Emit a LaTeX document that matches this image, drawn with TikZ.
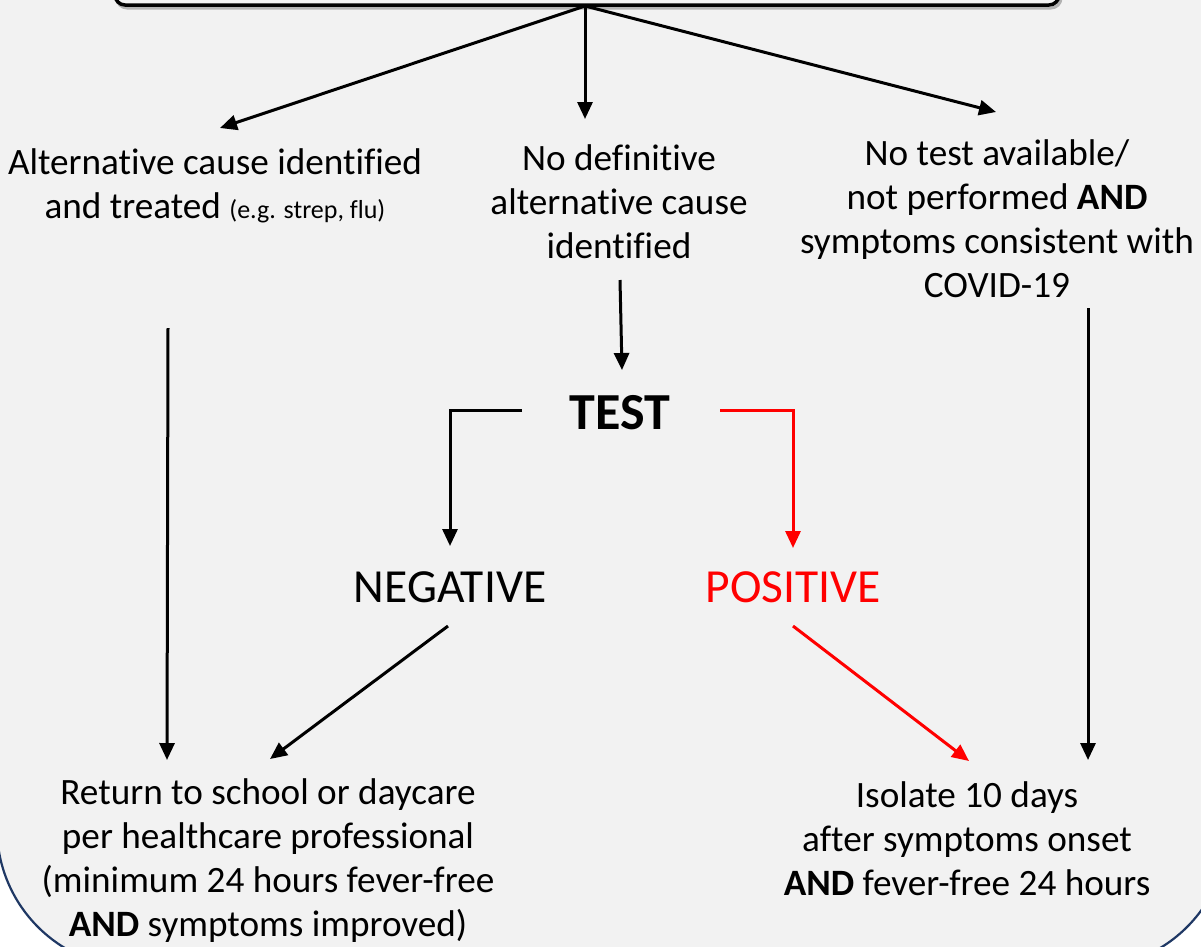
\documentclass[tikz,border=0pt]{standalone}
\usepackage{fontspec}
\setmainfont{Carlito}[Ligatures=NoCommon]
\usetikzlibrary{arrows.meta}
\definecolor{bggray}{HTML}{F2F2F2}
\definecolor{navy}{HTML}{1F3864}
\definecolor{redline}{HTML}{FF0000}
\tikzset{
  body/.style={inner sep=0pt, align=center, font=\fontsize{37.2}{44}\selectfont},
  big/.style={inner sep=0pt, font=\fontsize{47.5}{54}\selectfont},
  arr/.style={line width=3pt, -{Triangle[length=17pt,width=15pt]}},
  redarr/.style={arr, draw=redline, color=redline},
}
\begin{document}
\begin{tikzpicture}[x=1pt,y=-1pt]
\useasboundingbox (0,0) rectangle (1201,946);
\fill[white] (0,0) rectangle (1201,946);
\filldraw[fill=bggray, draw=navy, line width=2.2pt, rounded corners=140pt] (-3,-300) rectangle (1228,968);
% top box
\draw[gray!60, line width=3pt, rounded corners=10pt] (117,-40) -- (117,8) -- (1061,8) -- (1061,-40);
\draw[black, line width=3.5pt, rounded corners=10pt] (115,-40) -- (115,5) -- (1059,5) -- (1059,-40);
\coordinate (topmid) at (585,6);

% texts
\node[body] (alt) at (215,186) {Alternative cause identified\\and treated {\fontsize{26}{44}\selectfont (e.g. strep, flu)}};
\node[body] (nodef) at (619,202) {No definitive\\alternative cause\\identified};
\node[body] (notest) at (997,219) {No test available/\\not performed \textbf{AND}\\symptoms consistent with\\COVID-19};
\node[inner sep=0pt, font=\fontsize{52}{60}\selectfont\bfseries] (test) at (620,413) {TEST};
\node[big] (neg) at (450,587) {NEGATIVE};
\node[big, text=redline] (pos) at (793,587) {POSITIVE};
\node[body] (ret) at (268,861) {Return to school or daycare\\per healthcare professional\\(minimum 24 hours fever-free\\\textbf{AND} symptoms improved)};
\node[body] (iso) at (967,839) {Isolate 10 days\\after symptoms onset\\\textbf{AND} fever-free 24 hours};

% connector endpoints
\coordinate (altin) at (220,128);
\coordinate (nodefin) at (585,119);
\coordinate (notestin) at (996,112);
\coordinate (altout) at (168,328);
\coordinate (retinA) at (167,760);
\coordinate (nodefout) at (620,280);
\coordinate (testin) at (622,370);
\coordinate (notestout) at (1088,308);
\coordinate (isoinA) at (1088,760);
\coordinate (testL) at (522,410);
\coordinate (testR) at (720,410);
\coordinate (negin) at (450,546);
\coordinate (posin) at (793,548);
\coordinate (negout) at (448,626);
\coordinate (retinB) at (270,759);
\coordinate (posout) at (793,626);
\coordinate (isoinB) at (969,761);

\draw[arr] (topmid) -- (altin);
\draw[arr] (topmid) -- (nodefin);
\draw[arr] (topmid) -- (notestin);
\draw[arr] (altout) -- (retinA);
\draw[arr] (nodefout) -- (testin);
\draw[arr] (notestout) -- (isoinA);
\draw[arr] (testL) -| (negin);
\draw[redarr] (testR) -| (posin);
\draw[arr] (negout) -- (retinB);
\draw[redarr] (posout) -- (isoinB);
\end{tikzpicture}
\end{document}
